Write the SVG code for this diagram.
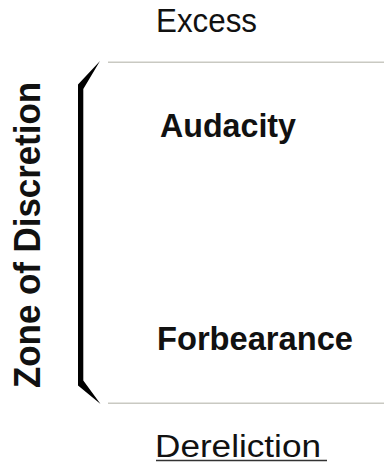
<svg xmlns="http://www.w3.org/2000/svg" width="384" height="465" viewBox="0 0 384 465">
  <style>
    .bold { font-family: "Liberation Sans", Arial, sans-serif; font-weight: bold; fill: #111; }
    .light { font-family: "Liberation Sans", Arial, sans-serif; font-weight: normal; fill: #111; }
    .rule { stroke: #c9c9c2; stroke-width: 1.5; fill: none; }
  </style>
  <rect width="384" height="465" fill="#ffffff"/>
  <g id="connectors">
    <line class="rule" x1="108" y1="62.3" x2="384" y2="62.3"/>
    <line class="rule" x1="108" y1="403.3" x2="384" y2="403.3"/>
  </g>
  <g id="bracket">
    <polygon points="100,61 78,84.5 78,385.5 100.5,404 83.3,380.5 83.3,89" fill="#000"/>
  </g>
  <g id="zone-label">
    <text class="bold" font-size="37" transform="translate(40,388) rotate(-90)" textLength="306" lengthAdjust="spacingAndGlyphs">Zone of Discretion</text>
  </g>
  <g id="excess">
    <text class="light" x="156" y="32" font-size="33" textLength="101" lengthAdjust="spacingAndGlyphs">Excess</text>
  </g>
  <g id="audacity">
    <text class="bold" x="160" y="137" font-size="33.5" textLength="136" lengthAdjust="spacingAndGlyphs">Audacity</text>
  </g>
  <g id="forbearance">
    <text class="bold" x="157" y="350" font-size="33.5" textLength="196" lengthAdjust="spacingAndGlyphs">Forbearance</text>
  </g>
  <g id="dereliction">
    <text class="light" x="155" y="457" font-size="31" textLength="166" lengthAdjust="spacingAndGlyphs">Dereliction</text>
    <line x1="156" y1="460.5" x2="327" y2="460.5" stroke="#333" stroke-width="1.5"/>
  </g>
</svg>
